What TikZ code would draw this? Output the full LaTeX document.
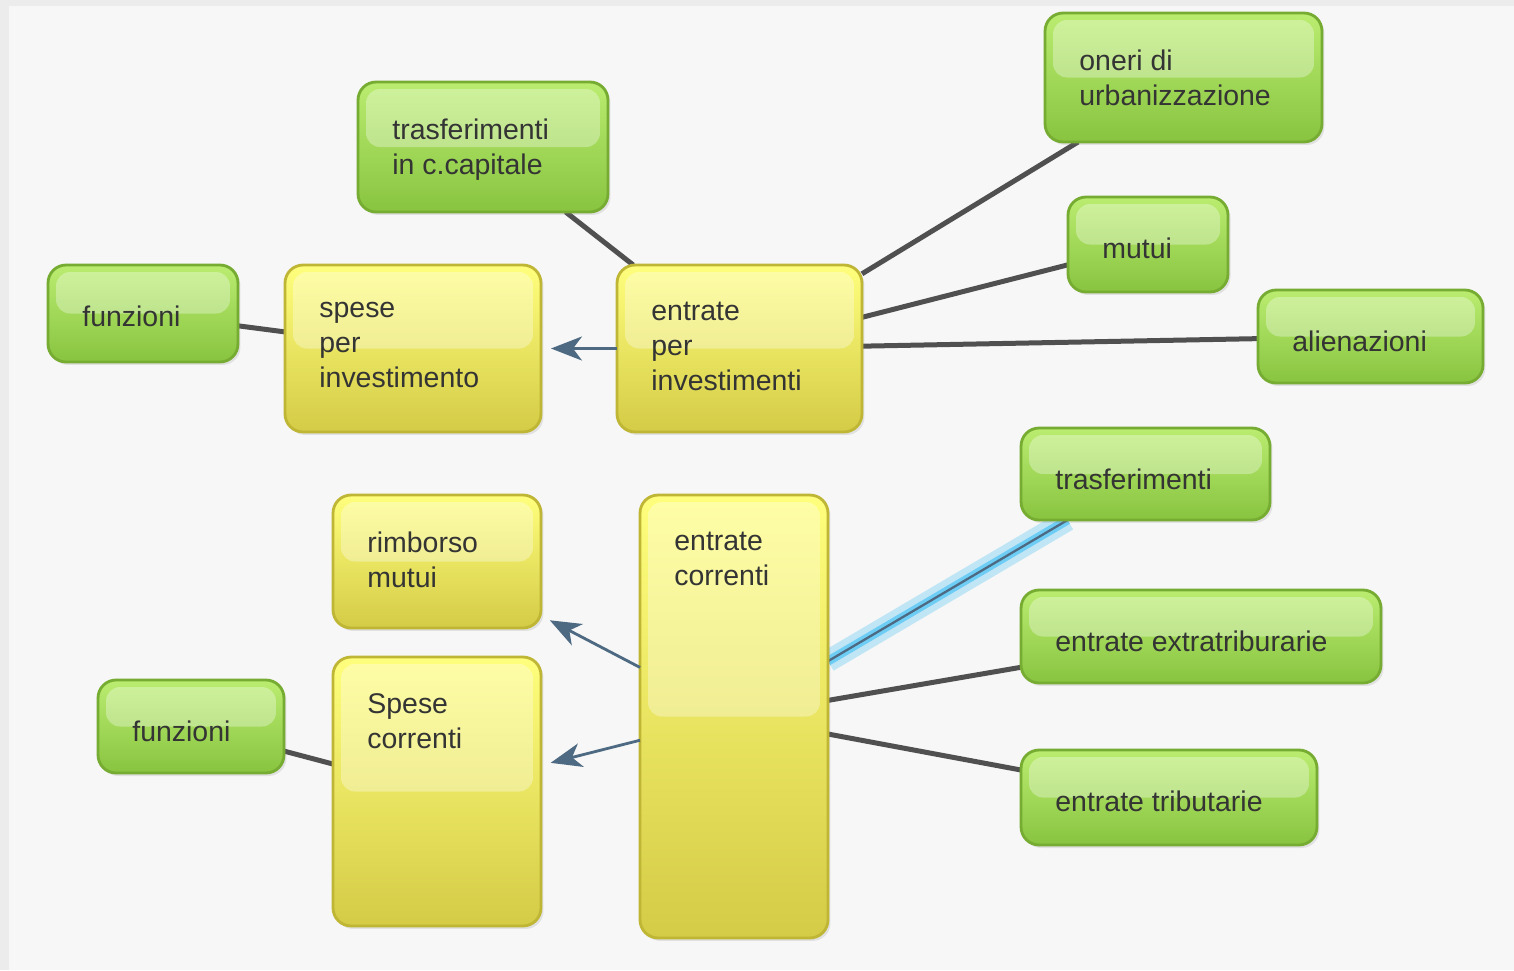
\documentclass[tikz,border=0pt]{standalone}
\usepackage{fontspec}
\setmainfont{Liberation Sans}
\usetikzlibrary{shadows,arrows.meta}
\definecolor{bgout}{RGB}{236,236,236}
\definecolor{bgin}{RGB}{247,247,247}
\definecolor{grnline}{RGB}{118,172,50}
\definecolor{grntop}{RGB}{186,236,112}
\definecolor{grnmid}{RGB}{162,222,85}
\definecolor{grnbot}{RGB}{136,196,64}
\definecolor{yelline}{RGB}{190,182,52}
\definecolor{yeltop}{RGB}{255,255,125}
\definecolor{yelmid}{RGB}{252,248,82}
\definecolor{yelbot}{RGB}{212,203,70}
\definecolor{txtc}{RGB}{52,52,52}
\definecolor{linkc}{RGB}{80,80,80}
\definecolor{arrc}{RGB}{77,106,130}
\definecolor{glowc}{RGB}{110,205,245}
\newcommand{\lblfont}{\fontsize{16.2pt}{19.9pt}\selectfont}
\pgfdeclarelayer{bg}
\pgfdeclarelayer{edges}
\pgfsetlayers{bg,edges,main}
\tikzset{
  box/.style={draw, rectangle, rounded corners=0.36cm, line width=1.6pt,
    inner sep=0pt, outer sep=0pt,
    drop shadow={opacity=0.18, shadow xshift=0.05cm, shadow yshift=-0.06cm},
    path picture={\fill[white, opacity=0.32, rounded corners=0.28cm]
      ([shift={(0.16cm,-0.14cm)}]path picture bounding box.north west) rectangle
      ([shift={(-0.16cm,0cm)}]path picture bounding box.east);}},
  gbox/.style={box, draw=grnline, top color=grntop, middle color=grnmid, bottom color=grnbot},
  ybox/.style={box, draw=yelline, top color=yeltop, middle color=yelmid, bottom color=yelbot},
  txt/.style={anchor=north west, inner sep=0pt, align=left, text=txtc,
    font=\lblfont, xshift=0.68cm, yshift=-20.8pt, execute at begin node=\strut},
  link/.style={draw=linkc, line width=0.1cm},
  arr/.style={draw=arrc, line width=1.6pt,
    -{Stealth[length=0.62cm, width=0.48cm, inset=0.18cm]}, shorten >=0.2cm}
}
\begin{document}
\begin{tikzpicture}[x=0.02cm, y=-0.02cm]
	\useasboundingbox (0,0) rectangle (1514,970);
	\begin{pgfonlayer}{bg}
		\fill[bgout] (0,0) rectangle (1514,970);
		\fill[bgin] (9,6) rectangle (1514,970);
	\end{pgfonlayer}

	% entrate per investimenti
	\node[ybox, minimum width=4.9cm, minimum height=3.34cm, label={[txt]north west:{entrate\\per\\investimenti}}] (epi) at (739.5,348.5) {};
	\node[ybox, minimum width=5.12cm, minimum height=3.34cm, label={[txt]north west:{spese\\per\\investimento}}] (spi) at (413,348.5) {};
	\node[gbox, minimum width=3.8cm, minimum height=1.94cm, label={[txt]north west:{funzioni}}] (fun1) at (143,313.5) {};
	\node[gbox, minimum width=5cm, minimum height=2.6cm, label={[txt]north west:{trasferimenti\\in c.capitale}}] (tcc) at (483,147) {};
	\node[gbox, minimum width=5.54cm, minimum height=2.58cm, label={[txt]north west:{oneri di\\urbanizzazione}}] (oneri) at (1183.5,77.5) {};
	\node[gbox, minimum width=3.2cm, minimum height=1.9cm, label={[txt]north west:{mutui}}] (mutui) at (1148,244.5) {};
	\node[gbox, minimum width=4.5cm, minimum height=1.86cm, label={[txt]north west:{alienazioni}}] (alien) at (1370.5,336.5) {};

	% entrate correnti
	\node[ybox, minimum width=3.76cm, minimum height=8.86cm, label={[txt]north west:{entrate\\correnti}}] (ec) at (734,716.5) {};
	\node[ybox, minimum width=4.16cm, minimum height=2.66cm, label={[txt]north west:{rimborso\\mutui}}] (rimb) at (437,561.5) {};
	\node[ybox, minimum width=4.16cm, minimum height=5.38cm, label={[txt]north west:{Spese\\correnti}}] (sc) at (437,791.5) {};
	\node[gbox, minimum width=3.72cm, minimum height=1.86cm, label={[txt]north west:{funzioni}}] (fun2) at (191,726.5) {};
	\node[gbox, minimum width=4.98cm, minimum height=1.84cm, label={[txt]north west:{trasferimenti}}] (trasf) at (1145.5,474) {};
	\node[gbox, minimum width=7.2cm, minimum height=1.86cm, label={[txt]north west:{entrate extratriburarie}}] (eex) at (1201,636.5) {};
	\node[gbox, minimum width=5.92cm, minimum height=1.9cm, label={[txt]north west:{entrate tributarie}}] (etr) at (1169,797.5) {};

	\begin{pgfonlayer}{edges}
		\draw[link] (epi) -- (tcc);
		\draw[link] (epi) -- (oneri);
		\draw[link] (epi) -- (mutui);
		\draw[link] (epi) -- (alien);
		\draw[link] (spi) -- (fun1);
		\draw[link] (sc) -- (fun2);
		\draw[link] (ec) -- (eex);
		\draw[link] (ec) -- (etr);
		% selected link
		\draw[glowc, opacity=0.4, line width=0.44cm] (ec) -- (trasf);
		\draw[glowc, line width=0.18cm] (ec) -- (trasf);
		\draw[arrc, line width=1.3pt] (ec) -- (trasf);
	\end{pgfonlayer}

	\draw[arr] (epi) -- (spi);
	\draw[arr] (ec) -- (rimb);
	\draw[arr] (ec) -- (sc);
\end{tikzpicture}
\end{document}
